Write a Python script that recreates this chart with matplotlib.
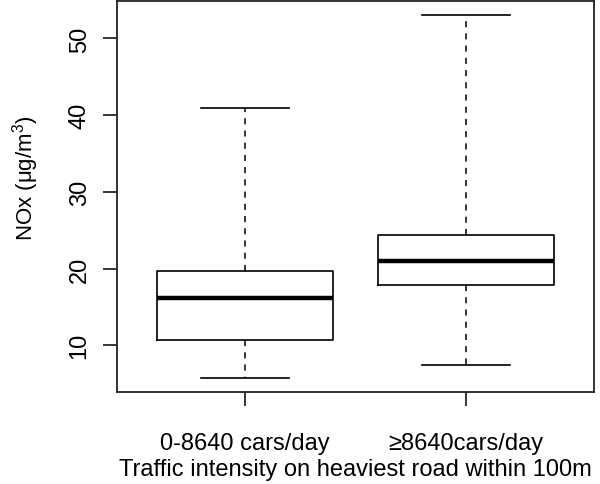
import matplotlib
matplotlib.use("Agg")
import matplotlib.pyplot as plt

plt.rcParams['font.family'] = ['Liberation Sans', 'DejaVu Sans']
plt.rcParams['mathtext.fontset'] = 'custom'
plt.rcParams['mathtext.rm'] = 'Liberation Sans'
plt.rcParams['mathtext.it'] = 'Liberation Sans:italic'

categories = ["0-8640 cars/day", "\u22658640cars/day"]
whislo = [5.8, 7.4]
q1 = [10.65, 17.8]
med = [16.2, 20.96]
q3 = [19.66, 24.37]
whishi = [41.0, 53.0]
yticks = [10, 20, 30, 40, 50]

stats = []
for i, c in enumerate(categories):
    stats.append(dict(label=c, whislo=whislo[i], q1=q1[i], med=med[i],
                      q3=q3[i], whishi=whishi[i], fliers=[]))

fig = plt.figure(figsize=(6, 4.85), dpi=100)
ax = fig.add_axes([117/600, 1-393/485, (594-117)/600, (393-2)/485])

ax.bxp(stats, positions=[1, 2], widths=0.8, showfliers=False,
       boxprops=dict(color='black', linewidth=1.2),
       medianprops=dict(color='black', linewidth=3.2, solid_capstyle='butt'),
       whiskerprops=dict(color='black', linewidth=1.1, linestyle=(0, (4, 4))),
       capprops=dict(color='black', linewidth=1.2),
       capwidths=0.4)

lo = min(whislo); hi = max(whishi); r = hi - lo
ax.set_ylim(lo - 0.04*r, hi + 0.04*r)
ax.set_xlim(0.42, 2.58)
ax.set_yticks(yticks)
ax.set_yticklabels([str(t) for t in yticks], rotation=90, va='center')
ax.set_xticks([1, 2])
ax.set_xticklabels(categories)
ax.tick_params(axis='both', direction='out', length=10, width=1.1, labelsize=17, color='black')
ax.tick_params(axis='y', pad=9)
ax.tick_params(axis='x', pad=19)
for s in ax.spines.values():
    s.set_linewidth(1.3)
    s.set_color('#222222')
ax.set_xlabel("Traffic intensity on heaviest road within 100m", fontsize=17, labelpad=3)
ax.set_ylabel("NOx ($\\mathregular{\\mu}$g/m$^3$)", fontsize=16)
ax.yaxis.set_label_coords(-0.16, 0.548)

fig.savefig("out.png", dpi=100)
